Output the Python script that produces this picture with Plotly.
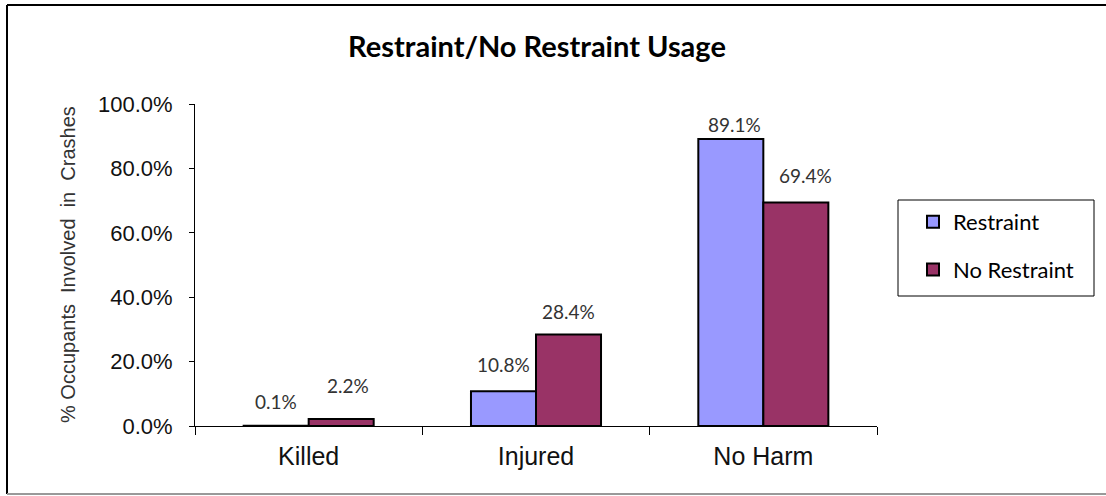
import plotly.graph_objects as go

categories = ["Killed", "Injured", "No Harm"]
restraint = [0.001, 0.108, 0.891]
no_restraint = [0.022, 0.284, 0.694]
series_names = ["Restraint", "No Restraint"]
y_ticks = [0, 0.2, 0.4, 0.6, 0.8, 1.0]

colors = ["#9999FF", "#993366"]
# label offsets (style): (dx, dy) in pixels relative to bar top centre
label_offsets = [[(0, 24), (7, 33)], [(0, 27), (0, 23)], [(4, 15), (10, 27)]]

# plot area in pixels
W, H = 1106, 496
L, R, T, B = 195, 877, 104, 426
pw, ph = R - L, B - T


def px(x):
    return (x - L) / pw


def py(y):
    return (B - y) / ph


fig = go.Figure()
for name, vals, col in zip(series_names, [restraint, no_restraint], colors):
    fig.add_trace(go.Bar(
        x=categories, y=vals, name=name, legendgroup=name,
        marker=dict(color=col, line=dict(color="black", width=2)),
        hoverinfo="skip",
    ))

annotations = []
for si, vals in enumerate([restraint, no_restraint]):
    for ci, (cat, v) in enumerate(zip(categories, vals)):
        dx, dy = label_offsets[ci][si]
        half = pw / 3 * (1 - 0.428) / 4
        annotations.append(dict(
            x=cat, y=v, xref="x", yref="y", text=f"{v*100:.1f}%",
            showarrow=False, xshift=(-half if si == 0 else half) + dx, yshift=dy,
            yanchor="middle", xanchor="center",
            font=dict(family="Lato", size=19, color="#333333"),
        ))

annotations.append(dict(
    x=px(68), y=0.5, xref="paper", yref="paper",
    text="% Occupants  Involved  in  Crashes", textangle=-90, showarrow=False,
    font=dict(family="Liberation Sans", size=20, color="#333333"),
    xanchor="center", yanchor="middle",
))

shapes = [
    dict(type="line", xref="paper", yref="paper", x0=px(7), x1=px(1110), y0=py(5), y1=py(5),
         line=dict(color="black", width=2)),
    dict(type="line", xref="paper", yref="paper", x0=px(7), x1=px(7), y0=py(5), y1=py(494),
         line=dict(color="black", width=2)),
    dict(type="line", xref="paper", yref="paper", x0=px(7), x1=px(1110), y0=py(494), y1=py(494),
         line=dict(color="#999999", width=2)),
    dict(type="rect", xref="paper", yref="paper", x0=px(898), x1=px(1094), y0=py(296), y1=py(200),
         line=dict(color="black", width=1)),
]

fig.update_layout(
    width=W, height=H,
    margin=dict(l=L, r=W - R, t=T, b=H - B),
    paper_bgcolor="white", plot_bgcolor="white",
    barmode="group", bargap=0.428, bargroupgap=0,
    title=dict(text="<b>Restraint/No Restraint Usage</b>", x=537 / W, xanchor="center",
               y=1 - 47 / H, yanchor="middle",
               font=dict(family="Lato", size=29, color="black")),
    showlegend=True,
    legend=dict(x=px(913), xanchor="left", y=py(201), yanchor="top",
                font=dict(family="Lato", size=22, color="black"),
                bgcolor="rgba(0,0,0,0)", borderwidth=0, tracegroupgap=16,
                itemwidth=30, traceorder="grouped", itemclick=False),
    annotations=annotations,
    shapes=shapes,
    font=dict(family="Liberation Sans"),
)
fig.update_xaxes(
    showline=True, linecolor="black", linewidth=1, ticks="outside", tickson="boundaries",
    ticklen=8, tickcolor="black", ticklabelstandoff=8,
    tickfont=dict(family="Liberation Sans", size=25, color="#111111"),
    showgrid=False, fixedrange=True,
)
fig.update_yaxes(
    range=[0, 1], tickvals=y_ticks, tickformat=".1%", showline=True, linecolor="black",
    linewidth=1, ticks="outside", ticklen=5, tickcolor="black", ticklabelstandoff=12,
    tickfont=dict(family="Liberation Sans", size=22, color="#111111"),
    showgrid=False, zeroline=False, fixedrange=True,
)

fig.write_html("out.html", config={"displayModeBar": False},
               post_script="document.body.style.margin='0';")
